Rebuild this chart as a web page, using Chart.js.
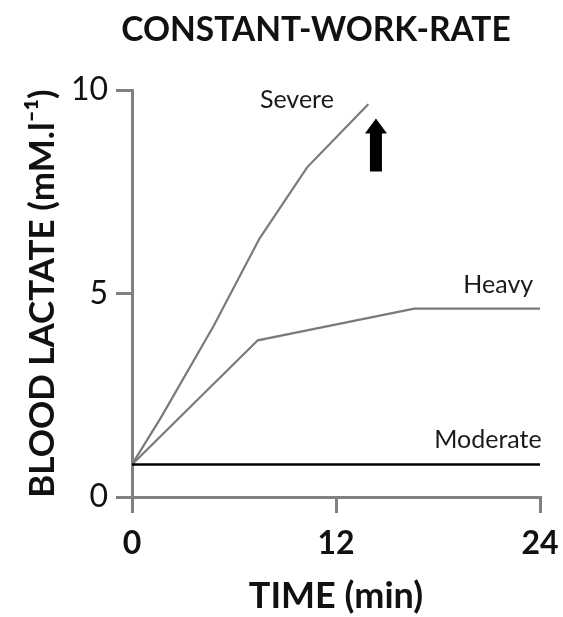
<!DOCTYPE html>
<html>
<head>
<meta charset="utf-8">
<script src="https://cdn.jsdelivr.net/npm/chart.js@4.4.1/dist/chart.umd.min.js"></script>
<style>
  html, body { margin: 0; padding: 0; background: #ffffff; }
  #wrap { width: 563px; height: 617px; }
</style>
</head>
<body>
<div id="wrap"><canvas id="chart" width="563" height="617"></canvas></div>
<script>
/* Blood lactate response to constant-work-rate exercise in three intensity domains. */

const xTicks = [0, 12, 24];
const yTicks = [0, 5, 10];

const moderateTime = [0, 24];
const moderateLactate = [0.8, 0.8];

const heavyTime = [0, 7.4, 16.6, 24];
const heavyLactate = [0.8, 3.85, 4.63, 4.63];

const severeTime = [0, 1.7, 4.8, 7.5, 10.3, 13.9];
const severeLactate = [0.8, 1.95, 4.2, 6.35, 8.1, 9.65];

const domainLabels = ["Moderate", "Heavy", "Severe"];

const FONT = "Lato, 'Open Sans', sans-serif";
const AXIS_GREY = "#808080";

function toPoints(xs, ys) {
  return xs.map((x, i) => ({ x: x, y: ys[i] }));
}

// text next to each curve + the "still rising" arrow, placed in data units
const notes = [
  { text: domainLabels[0], x: 24.1, y: 1.4, align: "right" },
  { text: domainLabels[1], x: 23.6, y: 5.2, align: "right" },
  { text: domainLabels[2], x: 9.7, y: 9.75, align: "center" },
];
const arrowNote = { x: 14.35, yTip: 9.3, yBase: 8.0 };

const notesPlugin = {
  id: "notes",
  afterDatasetsDraw(chart) {
    const { ctx, scales } = chart;
    ctx.save();
    ctx.fillStyle = "#1a1a1a";
    ctx.font = "25px " + FONT;
    ctx.textBaseline = "middle";
    notes.forEach((n) => {
      ctx.textAlign = n.align;
      ctx.fillText(n.text, scales.x.getPixelForValue(n.x), scales.y.getPixelForValue(n.y));
    });

    // upward arrow
    const ax = scales.x.getPixelForValue(arrowNote.x);
    const tip = scales.y.getPixelForValue(arrowNote.yTip);
    const base = scales.y.getPixelForValue(arrowNote.yBase);
    ctx.fillStyle = "#000000";
    ctx.beginPath();
    ctx.moveTo(ax, tip);
    ctx.lineTo(ax + 11, tip + 15);
    ctx.lineTo(ax + 6, tip + 15);
    ctx.lineTo(ax + 6, base);
    ctx.lineTo(ax - 6, base);
    ctx.lineTo(ax - 6, tip + 15);
    ctx.lineTo(ax - 11, tip + 15);
    ctx.closePath();
    ctx.fill();

    // figure heading
    ctx.fillStyle = "#111111";
    ctx.font = "bold 33.5px " + FONT;
    ctx.textAlign = "center";
    ctx.fillText("CONSTANT-WORK-RATE", 316, 30);
    ctx.restore();
  },
};

new Chart(document.getElementById("chart"), {
  type: "line",
  data: {
    datasets: [
      {
        label: domainLabels[0],
        data: toPoints(moderateTime, moderateLactate),
        borderColor: "#000000",
        borderWidth: 2.5,
        pointRadius: 0,
      },
      {
        label: domainLabels[1],
        data: toPoints(heavyTime, heavyLactate),
        borderColor: "#7a7a7a",
        borderWidth: 2.2,
        pointRadius: 0,
      },
      {
        label: domainLabels[2],
        data: toPoints(severeTime, severeLactate),
        borderColor: "#7a7a7a",
        borderWidth: 2.2,
        pointRadius: 0,
      },
    ],
  },
  options: {
    responsive: false,
    animation: false,
    layout: { padding: { top: 90, right: 23, left: 0, bottom: 0 } },
    plugins: {
      legend: { display: false },
      tooltip: { enabled: false },
    },
    scales: {
      x: {
        type: "linear",
        min: 0,
        max: 24,
        afterBuildTicks(scale) {
          scale.ticks = xTicks.map((v) => ({ value: v }));
        },
        afterFit(scale) {
          scale.height = 120;
          scale.paddingLeft = 0;
          scale.paddingRight = 0;
        },
        border: { display: true, color: AXIS_GREY, width: 3 },
        grid: { drawOnChartArea: false, drawTicks: true, tickLength: 16, color: AXIS_GREY, lineWidth: 3 },
        ticks: { color: "#111111", padding: 11, maxRotation: 0, font: { family: FONT, size: 32, weight: "bold" } },
        title: {
          display: true,
          text: "TIME (min)",
          color: "#111111",
          padding: { top: 0, bottom: 1 },
          font: { family: FONT, size: 36, weight: "bold", lineHeight: 1.1 },
        },
      },
      y: {
        type: "linear",
        min: 0,
        max: 10,
        afterBuildTicks(scale) {
          scale.ticks = yTicks.map((v) => ({ value: v }));
        },
        afterFit(scale) {
          scale.width = 132;
          scale.paddingTop = 0;
          scale.paddingBottom = 0;
        },
        border: { display: true, color: AXIS_GREY, width: 3 },
        grid: { drawOnChartArea: false, drawTicks: true, tickLength: 16, color: AXIS_GREY, lineWidth: 3 },
        ticks: { color: "#111111", padding: 8, font: { family: FONT, size: 32 } },
        title: {
          display: true,
          text: "BLOOD LACTATE (mM.l\u207B\u00B9)",
          color: "#111111",
          padding: { top: 22, bottom: 0 },
          font: { family: FONT, size: 35, weight: "bold", lineHeight: 1.2 },
        },
      },
    },
  },
  plugins: [notesPlugin],
});
</script>
</body>
</html>
